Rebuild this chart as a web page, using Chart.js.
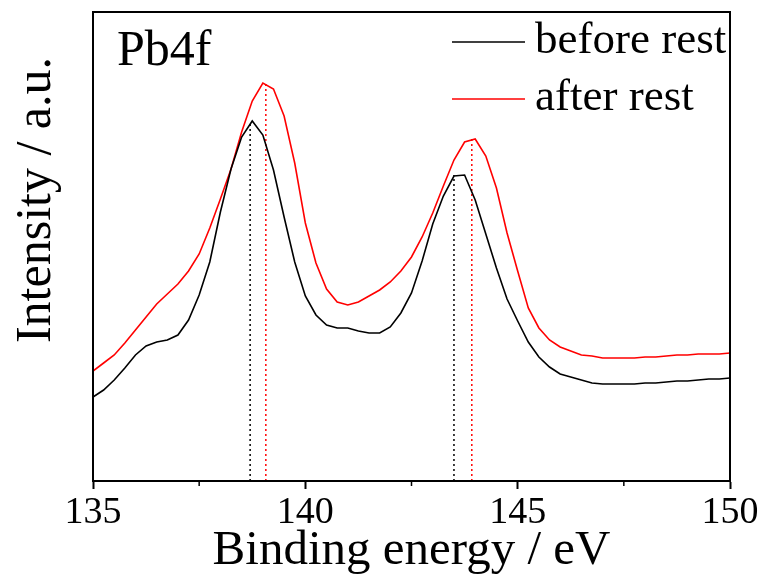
<!DOCTYPE html>
<html>
<head>
<meta charset="utf-8">
<script src="https://cdn.jsdelivr.net/npm/chart.js@4.4.1/dist/chart.umd.min.js"></script>
<style>
  html, body { margin: 0; padding: 0; background: #fff; }
  #xps-chart { display: block; }
</style>
</head>
<body>
<canvas id="xps-chart" width="765" height="584"></canvas>
<script>
// binding energy (eV)
const energy = [
  135, 135.25, 135.5, 135.75, 136, 136.25, 136.5, 136.75, 137, 137.25,
  137.5, 137.75, 138, 138.25, 138.5, 138.75, 139, 139.25, 139.5, 139.75,
  140, 140.25, 140.5, 140.75, 141, 141.25, 141.5, 141.75, 142, 142.25,
  142.5, 142.75, 143, 143.25, 143.5, 143.75, 144, 144.25, 144.5, 144.75,
  145, 145.25, 145.5, 145.75, 146, 146.25, 146.5, 146.75, 147, 147.25,
  147.5, 147.75, 148, 148.25, 148.5, 148.75, 149, 149.25, 149.5, 149.75, 150
];

// intensity, arbitrary units
const beforeRest = [
  84, 91, 101, 113, 126, 135, 139, 141, 146, 161,
  186, 219, 269, 312, 344, 360, 346, 311, 264, 219,
  185, 166, 156, 153, 153, 150, 148, 148, 154, 168,
  188, 220, 257, 285, 305, 306, 281, 247, 213, 182,
  160, 139, 124, 114, 107, 104, 101, 98, 97, 97,
  97, 97, 98, 98, 99, 100, 100, 101, 102, 102, 103
];

const afterRest = [
  110, 118, 126, 138, 151, 164, 177, 187, 197, 210,
  227, 253, 282, 312, 349, 380, 398, 392, 365, 318,
  258, 218, 192, 179, 176, 179, 185, 191, 199, 210,
  224, 244, 268, 295, 321, 339, 342, 325, 293, 248,
  210, 173, 153, 141, 134, 130, 126, 125, 123, 123,
  123, 123, 124, 124, 125, 126, 126, 127, 127, 127, 128
];

// peak positions (eV) and heights for the dotted markers
const beforePeaks = [138.7, 143.5];
const beforePeakTops = [360, 306];
const afterPeaks = [139.07, 143.92];
const afterPeakTops = [398, 342];

const xTicks = [135, 140, 145, 150];
const minorTicks = [137.5, 142.5, 147.5];

const serif = "'Liberation Serif', 'Times New Roman', serif";

const toPoints = (xs, ys) => xs.map((v, i) => ({ x: v, y: ys[i] }));

const peakLines = (peaks, tops, color) => peaks.map((p, i) => ({
  label: "",
  data: [{ x: p, y: 0 }, { x: p, y: tops[i] }],
  borderColor: color,
  borderWidth: 1.5,
  borderDash: [2, 3],
  pointRadius: 0,
  inLegend: false
}));

const decorations = {
  id: "decorations",
  afterDraw(chart) {
    const { ctx, chartArea: area, scales: { x } } = chart;
    ctx.save();

    // box around plot
    ctx.strokeStyle = "#000";
    ctx.lineWidth = 2;
    ctx.strokeRect(area.left, area.top, area.right - area.left, area.bottom - area.top);

    // minor ticks
    ctx.lineWidth = 1.5;
    minorTicks.forEach(v => {
      const px = x.getPixelForValue(v);
      ctx.beginPath();
      ctx.moveTo(px, area.bottom);
      ctx.lineTo(px, area.bottom + 5);
      ctx.stroke();
    });

    // panel label
    ctx.fillStyle = "#000";
    ctx.font = `50px ${serif}`;
    ctx.textAlign = "left";
    ctx.textBaseline = "alphabetic";
    ctx.fillText("Pb4f", 117, 65);

    // legend
    const entries = chart.data.datasets.filter(d => d.inLegend);
    ctx.font = `45px ${serif}`;
    entries.forEach((d, i) => {
      const ly = 42 + i * 57;
      ctx.strokeStyle = d.borderColor;
      ctx.lineWidth = 1.5;
      ctx.beginPath();
      ctx.moveTo(452, ly);
      ctx.lineTo(525, ly);
      ctx.stroke();
      ctx.fillStyle = "#000";
      ctx.fillText(d.label, 535, ly + 11);
    });

    // y title
    ctx.translate(37, 200);
    ctx.rotate(-Math.PI / 2);
    ctx.textAlign = "center";
    ctx.textBaseline = "middle";
    ctx.font = `50px ${serif}`;
    ctx.fillText("Intensity / a.u.", 0, 0);

    ctx.restore();
  }
};

const ctx = document.getElementById("xps-chart").getContext("2d");

const config = {
  type: "line",
  data: {
    datasets: [
      {
        label: "before rest",
        data: toPoints(energy, beforeRest),
        borderColor: "#000000",
        borderWidth: 1.6,
        pointRadius: 0,
        inLegend: true
      },
      {
        label: "after rest",
        data: toPoints(energy, afterRest),
        borderColor: "#ff0000",
        borderWidth: 1.6,
        pointRadius: 0,
        inLegend: true
      },
      ...peakLines(beforePeaks, beforePeakTops, "#000000"),
      ...peakLines(afterPeaks, afterPeakTops, "#ff0000")
    ]
  },
  options: {
    responsive: false,
    animation: false,
    layout: {
      padding: { top: 12, right: 35, left: 0, bottom: 0 }
    },
    plugins: {
      legend: { display: false },
      tooltip: { enabled: false }
    },
    scales: {
      x: {
        type: "linear",
        min: 135,
        max: 150,
        afterFit: scale => { scale.height = 103; },
        afterBuildTicks: scale => { scale.ticks = xTicks.map(v => ({ value: v })); },
        border: { display: true, color: "#000", width: 2 },
        grid: {
          drawOnChartArea: false,
          drawTicks: true,
          tickLength: 8,
          tickWidth: 2,
          tickColor: "#000"
        },
        ticks: {
          color: "#000",
          padding: 1,
          maxRotation: 0,
          font: { family: serif, size: 38 }
        },
        title: {
          display: true,
          text: "Binding energy / eV",
          color: "#000",
          padding: { top: 0, bottom: 3 },
          font: { family: serif, size: 49 }
        }
      },
      y: {
        min: 0,
        max: 469,
        afterFit: scale => { scale.width = 93; },
        border: { display: true, color: "#000", width: 2 },
        grid: { drawOnChartArea: false, drawTicks: false },
        ticks: { display: false }
      }
    }
  },
  plugins: [decorations]
};

const pb_chart = new Chart(ctx, config);
</script>
</body>
</html>
